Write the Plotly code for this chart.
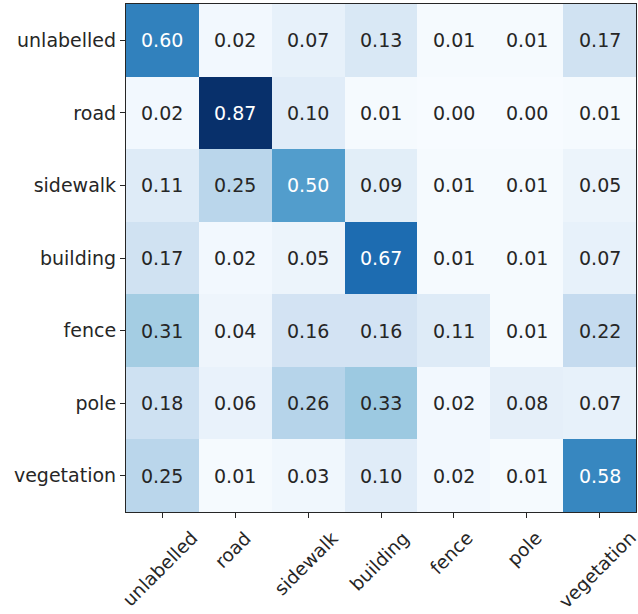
import plotly.graph_objects as go

classes = ["unlabelled", "road", "sidewalk", "building", "fence", "pole", "vegetation"]
matrix = [
    [0.60, 0.02, 0.07, 0.13, 0.01, 0.01, 0.17],
    [0.02, 0.87, 0.10, 0.01, 0.00, 0.00, 0.01],
    [0.11, 0.25, 0.50, 0.09, 0.01, 0.01, 0.05],
    [0.17, 0.02, 0.05, 0.67, 0.01, 0.01, 0.07],
    [0.31, 0.04, 0.16, 0.16, 0.11, 0.01, 0.22],
    [0.18, 0.06, 0.26, 0.33, 0.02, 0.08, 0.07],
    [0.25, 0.01, 0.03, 0.10, 0.02, 0.01, 0.58],
]

blues = [
    [0.0, "#f7fbff"], [0.125, "#deebf7"], [0.25, "#c6dbef"], [0.375, "#9ecae1"],
    [0.5, "#6baed6"], [0.625, "#4292c6"], [0.75, "#2171b5"], [0.875, "#08519c"],
    [1.0, "#08306b"],
]

vmax = max(max(r) for r in matrix)
vmin = min(min(r) for r in matrix)
thresh = vmax / 2.0
n = len(classes)

fig = go.Figure(go.Heatmap(
    z=matrix, x=classes, y=classes, colorscale=blues, zmin=vmin, zmax=vmax,
    showscale=False, xgap=0, ygap=0, hoverinfo="skip",
))

FONT = "DejaVu Sans"
ann = []
for i, row in enumerate(matrix):
    for j, v in enumerate(row):
        ann.append(dict(
            x=classes[j], y=classes[i], text=f"{v:.2f}", showarrow=False,
            font=dict(family=FONT, size=19, color="white" if v > thresh else "#262626"),
        ))
for c in classes:
    ann.append(dict(
        x=c, y=0, xref="x", yref="paper", text=c, showarrow=False, textangle=-45,
        xanchor="center", yanchor="top", yshift=-14, xshift=-2, borderpad=0,
        font=dict(family=FONT, size=18.5, color="#262626"),
    ))

fig.update_layout(
    width=638, height=614,
    margin=dict(l=126, r=2, t=4, b=102, autoexpand=False),
    paper_bgcolor="white", plot_bgcolor="white",
    annotations=ann,
    font=dict(family=FONT, size=19, color="#262626"),
)
fig.update_xaxes(
    range=[-0.5, n - 0.5], automargin=False,
    showticklabels=False, ticks="outside", ticklen=5, tickcolor="#262626",
    showline=True, mirror=True, linecolor="#262626", linewidth=1.2,
    showgrid=False, zeroline=False,
)
fig.update_yaxes(
    range=[n - 0.5, -0.5], automargin=False,
    ticks="outside", ticklen=5, tickcolor="#262626",
    showline=True, mirror=True, linecolor="#262626", linewidth=1.2,
    showgrid=False, zeroline=False, tickfont=dict(family=FONT, size=19, color="#262626"),
)

fig.write_html(
    "out.html",
    config={"displayModeBar": False},
    post_script="document.body.style.margin='0';",
)
